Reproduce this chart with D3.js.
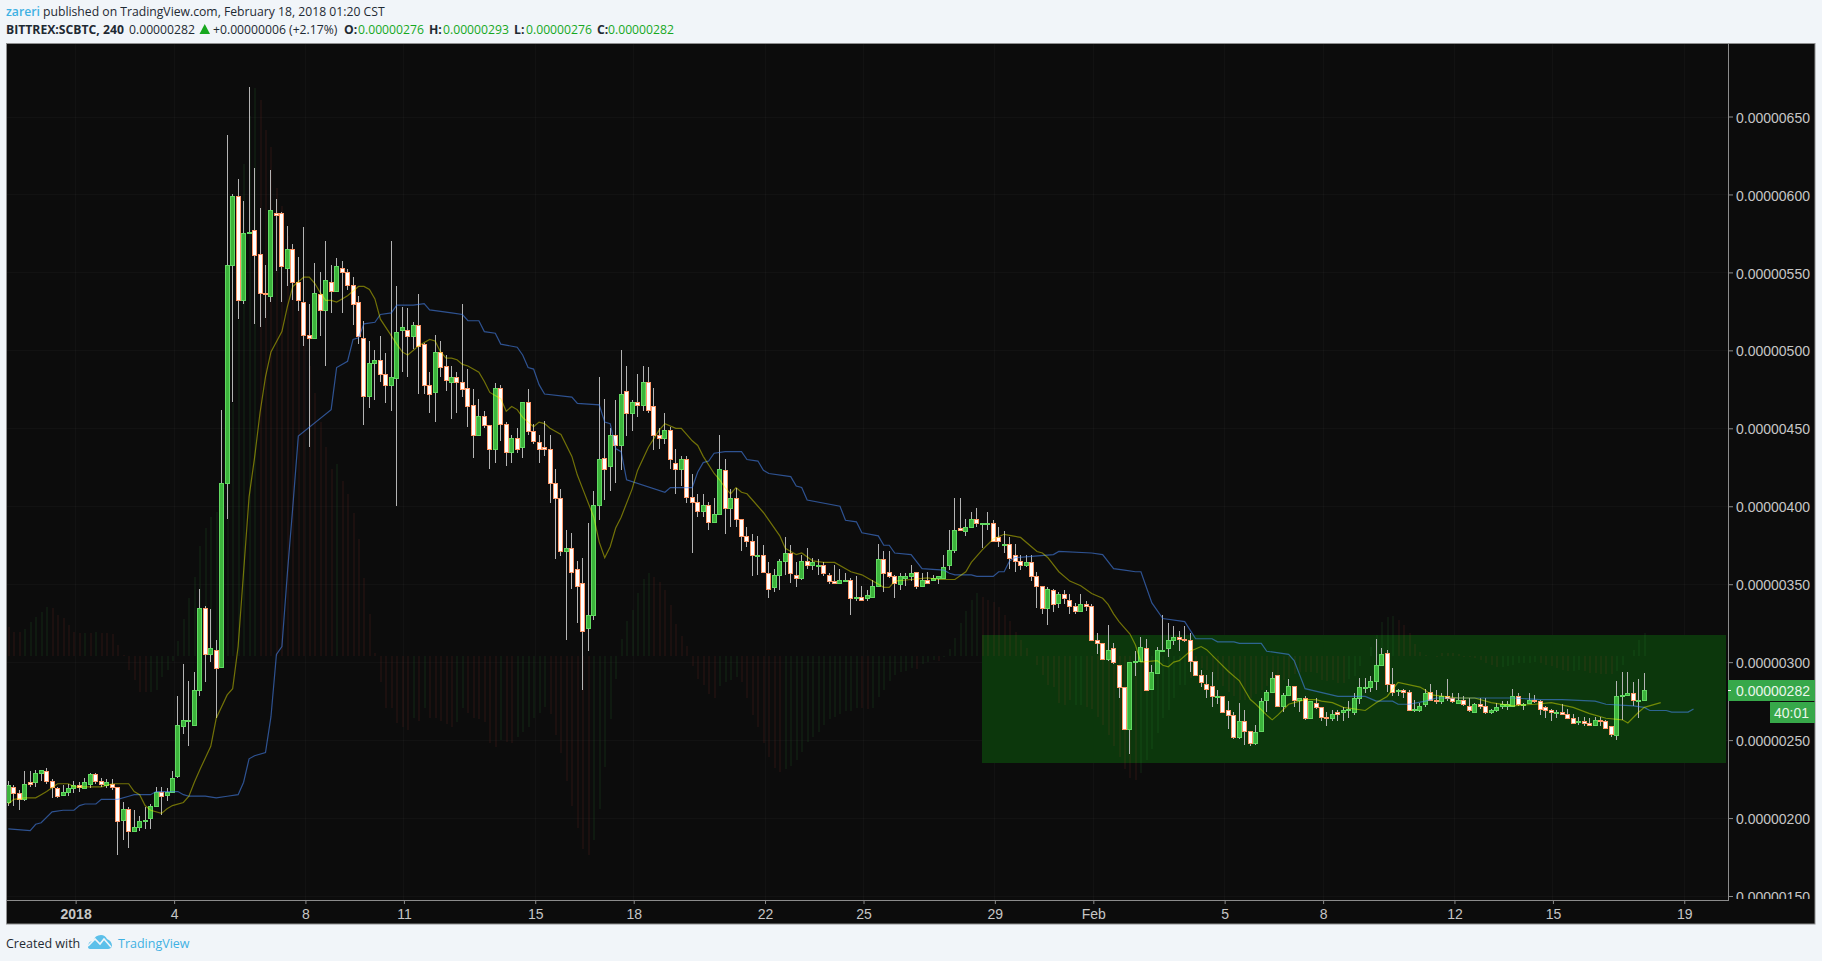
<!DOCTYPE html>
<html>
<head>
<meta charset="utf-8">
<title>BITTREX:SCBTC, 240</title>
<script src="https://cdn.jsdelivr.net/npm/d3@7"></script>
<style>
  html, body { margin: 0; padding: 0; background: #f1f5f9; }
  svg { display: block; }
  .axis text { font-family: "Liberation Sans", Arial, sans-serif; font-size: 14px; fill: #c6c6c6; }
  .axis line { stroke: #8c8c8c; }
  .head { font-family: "Open Sans", "Noto Sans", sans-serif; font-size: 12.2px; fill: #1f2a33; }
</style>
</head>
<body>
<div id="chart"></div>
<script>
// Prices are in satoshi (1e-8 BTC), 4h candles
const opens = [
  210,220,216,212,223,223,229,230,224,219,215,217,219,221,219,222,228,224,221,222,
  220,199,206,192,194,198,200,208,217,215,217,227,259,262,260,282,335,305,308,297,
  415,555,599,532,575,577,562,537,535,588,588,553,565,544,531,510,508,536,526,544,
  538,553,550,542,531,508,471,492,494,485,478,482,513,513,509,516,504,478,473,499,
  490,480,483,480,476,465,446,458,452,437,476,453,435,444,438,467,448,441,438,437,
  415,405,371,373,360,351,322,330,401,431,426,446,439,474,460,467,465,480,464,446,
  444,449,428,424,430,406,403,397,401,390,395,423,399,405,392,381,378,369,369,357,
  348,356,365,370,356,354,365,362,362,362,356,352,351,353,353,341,342,341,342,349,
  366,358,355,350,354,355,358,349,353,353,354,354,362,372,386,384,387,392,389,389,
  389,380,376,376,369,365,362,364,355,349,335,346,338,344,340,336,333,337,336,314,
  312,302,309,298,284,257,300,301,309,283,293,308,309,314,316,315,314,301,292,286,
  285,278,278,269,266,252,262,256,248,256,276,281,292,272,279,285,276,277,264,274,
  271,265,264,268,268,269,268,277,284,284,288,298,306,286,282,282,281,269,269,273,
  281,276,275,278,277,274,276,272,268,273,272,268,269,272,272,272,278,273,274,276,
  275,271,269,268,268,267,264,262,262,261,260,263,262,259,253,278,279,280,276,276
];
const highs = [
  224,221,218,230,230,231,231,232,225,220,221,222,224,223,226,229,229,226,225,225,
  220,210,207,205,201,207,209,220,220,219,230,278,299,288,294,347,336,334,314,462,
  638,600,610,596,669,617,591,555,616,597,589,580,568,560,579,530,556,550,570,555,
  559,557,552,547,535,519,506,500,509,498,570,541,528,527,518,536,505,486,510,506,
  497,490,486,530,488,475,469,461,452,479,478,454,446,450,467,475,453,446,455,446,
  424,411,385,383,365,367,389,410,483,469,450,468,500,490,468,485,490,489,476,450,
  460,451,437,432,432,421,408,408,403,405,446,430,411,412,392,387,382,381,375,364,
  360,366,380,375,364,369,373,367,366,364,357,362,360,357,354,355,349,346,353,376,
  371,371,356,357,357,362,358,357,358,356,355,369,385,405,405,392,396,399,389,396,
  391,387,384,380,376,369,369,369,358,349,348,347,345,346,344,338,344,339,337,319,
  312,324,312,298,284,300,307,316,315,298,310,330,325,323,320,323,319,301,295,292,
  294,282,278,275,268,274,269,256,260,277,282,294,292,280,289,285,277,278,275,277,
  271,268,269,269,271,275,280,290,290,291,315,309,308,296,283,283,282,276,274,283,
  286,282,280,289,280,280,278,277,274,277,277,270,274,275,275,283,280,274,280,279,
  276,272,270,269,273,270,267,265,265,264,265,265,263,259,288,294,294,287,289,293
];
const lows = [
  208,208,205,211,220,220,224,222,213,213,214,214,216,217,219,219,222,220,219,218,
  176,186,181,191,192,193,193,207,202,211,217,226,254,246,259,278,287,300,264,296,
  392,467,520,530,575,517,515,521,531,551,531,541,532,525,503,438,507,509,490,524,
  538,524,539,516,504,452,463,468,480,466,461,400,486,483,501,472,472,460,454,483,
  474,456,460,470,451,431,446,450,424,428,442,426,428,434,431,446,440,428,432,402,
  366,368,314,347,325,282,307,327,391,404,410,415,423,445,448,457,461,460,436,437,
  440,424,408,413,402,370,393,393,385,389,395,382,387,387,371,374,355,356,357,341,
  345,346,356,351,348,353,360,359,356,355,350,351,350,352,330,339,340,339,342,349,
  345,354,341,346,349,352,347,349,350,352,350,354,359,370,384,381,387,387,373,385,
  378,374,370,360,358,359,361,352,335,331,324,332,335,337,331,331,333,333,314,305,
  302,301,299,277,257,241,291,301,282,283,293,307,303,311,307,313,294,291,284,277,
  271,273,268,257,251,251,247,246,247,255,268,281,272,268,279,271,268,263,264,270,
  262,259,262,262,262,264,266,273,280,281,282,298,281,278,278,277,269,268,268,271,
  276,273,273,275,274,273,272,268,268,270,267,267,268,270,269,271,272,269,273,274,
  266,264,262,264,266,264,261,260,259,259,259,259,257,252,250,263,279,272,264,276
];
const closes = [
  221,216,212,222,222,229,231,224,220,214,217,219,221,220,223,228,224,222,223,220,
  198,206,192,194,198,199,208,217,214,217,226,260,263,263,282,335,305,309,296,415,
  555,599,532,575,576,561,537,536,590,587,554,565,544,532,510,508,537,526,545,538,
  554,550,542,530,509,471,492,494,485,478,483,512,515,509,516,503,478,472,499,489,
  481,483,480,475,464,446,458,452,437,476,453,435,444,437,467,448,442,437,437,415,
  405,371,373,358,349,320,330,401,430,424,446,439,472,460,467,465,480,462,446,444,
  449,430,424,430,406,403,397,401,390,395,424,399,405,392,381,378,369,369,358,347,
  356,365,370,357,354,365,362,364,362,357,352,351,353,353,341,342,340,343,349,366,
  357,355,351,355,355,357,349,353,351,354,355,361,372,385,385,387,392,389,389,389,
  378,378,376,367,365,362,364,355,349,335,347,337,344,341,336,333,337,336,314,312,
  302,308,300,284,257,300,301,310,282,294,308,308,314,316,315,314,301,292,287,283,
  278,278,268,266,252,262,256,248,255,275,281,290,272,279,285,276,277,264,275,271,
  265,264,267,267,269,270,277,284,284,288,298,305,286,281,282,281,269,270,272,280,
  276,275,278,277,275,276,273,269,273,272,268,269,271,273,273,278,273,273,276,275,
  270,269,268,268,267,264,261,262,261,260,263,262,258,254,278,279,280,276,276,282
];

// MACD style histogram behind the candles (height above/below its zero line)
const histValues = [
  29,24,24,27,34,39,44,49,48,41,38,31,24,23,23,23,24,23,23,22,
  11,1,-14,-24,-36,-36,-36,-34,-21,-14,-5,15,37,58,79,110,128,139,144,165,
  205,253,336,492,540,568,556,526,509,468,450,420,385,350,320,290,263,234,209,187,
  192,175,162,143,117,78,42,3,-26,-52,-52,-67,-71,-74,-62,-65,-52,-62,-62,-65,
  -68,-71,-66,-52,-57,-62,-63,-66,-87,-91,-84,-86,-87,-81,-76,-71,-62,-57,-51,-58,
  -79,-97,-125,-150,-172,-193,-199,-184,-153,-111,-63,-23,17,35,46,63,77,83,79,74,
  66,51,32,20,10,-10,-23,-29,-38,-42,-30,-26,-24,-21,-26,-42,-59,-71,-87,-101,
  -112,-116,-113,-110,-104,-96,-86,-81,-76,-69,-63,-61,-58,-55,-55,-52,-52,-53,-52,-41,
  -34,-25,-19,-16,-15,-12,-13,-8,-6,-4,-5,-1,7,18,33,45,56,63,59,56,
  54,49,41,35,24,16,8,0,-9,-19,-29,-31,-47,-49,-44,-49,-49,-51,-53,-61,
  -69,-79,-90,-101,-113,-122,-124,-117,-104,-93,-77,-62,-54,-42,-29,-29,-22,-17,-12,-14,
  -18,-24,-30,-36,-40,-44,-44,-42,-38,-34,-30,-28,-26,-24,-22,-18,-16,-16,-16,-17,
  -24,-25,-24,-27,-27,-23,-20,-10,0,9,21,34,39,40,36,31,23,12,4,1,
  0,-1,3,3,3,2,-1,-1,-2,-4,-7,-9,-11,-11,-10,-9,-7,-7,-7,-6,
  -7,-9,-10,-12,-14,-15,-15,-14,-15,-17,-17,-18,-18,-18,-15,-9,0,6,16,23
];
// the bars of that histogram that are green, the others are red
const histGreen = [
  3,4,5,6,7,14,16,26,27,28,29,30,31,32,33,34,35,36,37,38,39,40,41,42,43,44,45,60,74,76,82,83,
  90,93,94,95,96,97,98,107,108,109,110,111,112,113,114,115,116,117,130,131,132,133,
  142,143,144,145,146,147,148,149,150,151,152,153,154,155,158,159,160,161,162,163,164,165,
  167,168,169,171,172,173,174,175,176,177,195,196,207,208,209,210,211,212,213,214,215,
  245,246,247,249,250,251,252,253,273,274,275,276,277,278,279,286,287,294,295,297,298,299
];

// Olive and blue moving lines: bar index + value at each corner
const yellowBars = [
  0,1,3,5,6,7,9,11,12,17,19,22,23,24,25,26,28,29,30,32,33,34,35,37,38,40,41,42,43,44,45,46,47,48,
  50,51,52,53,54,55,56,57,58,59,60,61,62,64,65,66,67,68,71,72,73,75,77,78,79,80,81,82,83,84,86,87,88,
  90,91,92,93,94,96,97,98,99,101,103,104,105,107,108,109,110,111,112,114,115,117,119,120,122,123,125,126,127,129,
  130,131,132,133,134,135,136,138,141,142,143,144,145,147,149,151,154,156,158,160,161,162,165,168,170,173,175,176,178,
  180,182,185,188,189,190,192,194,196,198,200,201,202,203,204,205,206,207,210,211,212,213,214,216,218,219,221,223,225,226,227,228,
  230,231,232,234,236,237,239,240,242,244,248,250,252,254,258,259,260,265,268,271,275,279,282,286,289,292,295,296,298,299,302
];
const yellowVals = [
  209,212,213,213,215,217,222,222,220,220,222,222,217,215,208,205,203,206,208,210,214,223,231,246,264,279,283,310,358,406,431,460,483,499,
  512,528,541,544,547,547,543,537,532,532,531,533,535,541,541,539,533,520,504,499,497,503,507,506,499,495,495,494,491,490,486,480,473,
  469,461,464,462,457,451,454,453,450,446,432,420,411,393,377,367,374,386,393,411,423,438,449,453,450,450,442,439,432,421,
  417,412,408,412,409,408,404,396,381,373,371,369,370,365,364,364,358,356,352,348,348,352,353,354,353,353,358,364,372,
  379,382,380,371,370,367,358,352,349,344,341,337,331,326,322,318,311,300,301,298,297,300,301,307,310,308,301,294,288,282,276,273,
  266,263,266,273,275,276,276,275,274,271,269,274,278,287,284,282,279,277,277,274,272,273,274,271,267,264,263,261,268,271,274
];
const blueBars = [
  0,4,5,6,8,10,12,13,14,16,17,18,20,22,23,26,27,31,32,33,36,38,40,42,43,44,45,47,48,49,50,51,52,53,59,60,62,63,64,65,67,68,70,71,72,74,76,77,79,81,
  83,84,86,87,89,90,93,94,95,96,97,98,103,104,108,109,110,111,112,113,120,121,125,126,127,128,129,131,134,135,137,138,139,143,144,145,146,152,153,155,156,159,
  160,161,162,165,167,171,172,173,176,177,180,181,182,183,184,191,192,198,200,202,204,206,207,209,211,215,217,220,221,224,225,229,230,234,235,237,
  243,248,250,253,254,256,259,261,265,275,280,284,290,292,297,299,300,303,304,307,308
];
const blueVals = [
  193,192,196,197,204,205,205,208,209,209,212,212,212,214,215,215,217,217,215,214,214,213,214,215,223,238,240,242,265,305,310,357,400,445,462,489,493,507,508,517,518,523,524,529,529,529,530,526,525,524,
  523,519,519,512,511,504,502,497,489,488,478,472,470,466,465,454,453,437,435,417,409,412,412,422,428,429,434,435,435,430,429,423,421,419,413,412,404,400,391,390,383,381,
  375,375,370,369,360,359,357,356,356,355,355,358,358,365,367,369,371,370,369,360,359,358,358,338,328,326,315,315,313,313,312,312,307,305,301,283,
  278,278,275,275,273,273,275,277,277,277,276,276,275,273,272,271,269,269,268,268,270
];

// Time axis: days after Jan 1 and their labels
const tickDays = [0,3,7,10,14,17,21,24,28,31,35,38,42,45,49];
const tickLabels = ["2018","4","8","11","15","18","22","25","29","Feb","5","8","12","15","19"];
const priceTicks = [150,200,250,300,350,400,450,500,550,600,650];

// Green box drawn on the chart
const boxPrices = [235, 317.5];
const boxBars = [178, 314];

const lastPrice = 282;
const countdown = "40:01";

// Layout
const W = 1822, H = 961;
const pane = { left: 7, top: 44, right: 1728, bottom: 900 };
const frameRight = 1815, frameBottom = 924;

const svg = d3.select("#chart").append("svg")
  .attr("width", W)
  .attr("height", H);

const x = d3.scaleLinear().domain([0, 299]).range([8.33, 1644.3]);
const y = d3.scaleLinear().domain([150, 650]).range([896, 116.5]);
const yHist = d3.scaleLinear().domain([-600, 600]).range([1256, 56]);
const px = d => Math.floor(x(d));
const fmtPrice = d => "0." + String(d).padStart(8, "0");

// Frame
svg.append("rect")
  .attr("x", 6.5).attr("y", 43.5)
  .attr("width", frameRight - 6.5).attr("height", frameBottom - 43.5)
  .attr("fill", "#0c0c0c")
  .attr("stroke", "#8f9091");

const defs = svg.append("defs");
defs.append("clipPath").attr("id", "paneClip").append("rect")
  .attr("x", pane.left).attr("y", pane.top)
  .attr("width", pane.right - pane.left).attr("height", pane.bottom - pane.top);
defs.append("clipPath").attr("id", "priceClip").append("rect")
  .attr("x", pane.right - 1).attr("y", pane.top)
  .attr("width", frameRight - pane.right + 1).attr("height", pane.bottom - pane.top - 1);

const g = svg.append("g").attr("clip-path", "url(#paneClip)");

// Grid
const tickBars = tickDays.map(d => 12.3 + d * 6);
g.append("g").selectAll("line").data(priceTicks).enter().append("line")
  .attr("x1", pane.left).attr("x2", pane.right)
  .attr("y1", d => Math.round(y(d)) + 0.5).attr("y2", d => Math.round(y(d)) + 0.5)
  .attr("stroke", "rgba(255,255,255,0.027)");
g.append("g").selectAll("line").data(tickBars).enter().append("line")
  .attr("y1", pane.top).attr("y2", pane.bottom)
  .attr("x1", d => Math.floor(x(d)) + 0.5).attr("x2", d => Math.floor(x(d)) + 0.5)
  .attr("stroke", "rgba(255,255,255,0.027)");

// Green box
g.append("rect")
  .attr("x", Math.round(x(boxBars[0])))
  .attr("y", Math.round(y(boxPrices[1])))
  .attr("width", Math.round(x(boxBars[1])) - Math.round(x(boxBars[0])))
  .attr("height", Math.round(y(boxPrices[0])) - Math.round(y(boxPrices[1])))
  .attr("fill", "#0c370c");

// Histogram
const greenSet = new Set(histGreen);
g.append("g").selectAll("rect").data(histValues).enter().append("rect")
  .attr("x", (d, i) => px(i))
  .attr("width", 2)
  .attr("y", d => Math.min(yHist(d), yHist(0)))
  .attr("height", d => Math.abs(yHist(d) - yHist(0)))
  .attr("fill", (d, i) => greenSet.has(i) ? "rgba(60,200,70,0.075)" : "rgba(235,70,50,0.07)");

// Candles
const bars = opens.map((o, i) => ({ i, o, h: highs[i], l: lows[i], c: closes[i] }));
const up = d => d.c >= d.o;

g.append("g").selectAll("rect").data(bars).enter().append("rect")
  .attr("x", d => px(d.i))
  .attr("width", 1)
  .attr("y", d => Math.round(y(d.h)))
  .attr("height", d => Math.max(1, Math.round(y(d.l)) - Math.round(y(d.h))))
  .attr("fill", "#b4b4b4");

g.append("g").selectAll("rect").data(bars).enter().append("rect")
  .attr("x", d => px(d.i) - 1.5)
  .attr("width", 4)
  .attr("y", d => Math.round(y(Math.max(d.o, d.c))) + 0.5)
  .attr("height", d => Math.max(1, Math.round(y(Math.min(d.o, d.c))) - Math.round(y(Math.max(d.o, d.c)))))
  .attr("fill", d => up(d) ? "#3cb43c" : "#ffffff")
  .attr("stroke", d => up(d) ? "#62d962" : "#ff9a6a")
  .attr("stroke-width", 1)
  .attr("shape-rendering", "crispEdges");

// Moving lines
const line = d3.line().x(d => x(d[0])).y(d => y(d[1]));
g.append("path")
  .datum(blueBars.map((b, i) => [b, blueVals[i]]))
  .attr("d", line)
  .attr("fill", "none")
  .attr("stroke", "rgba(75,140,255,0.55)")
  .attr("stroke-width", 1.2);
g.append("path")
  .datum(yellowBars.map((b, i) => [b, yellowVals[i]]))
  .attr("d", line)
  .attr("fill", "none")
  .attr("stroke", "rgba(255,255,0,0.42)")
  .attr("stroke-width", 1.2);

// Price scale
svg.append("line")
  .attr("x1", pane.right + 0.5).attr("x2", pane.right + 0.5)
  .attr("y1", pane.top).attr("y2", pane.bottom + 0.5)
  .attr("stroke", "#8c8c8c");

svg.append("g")
  .attr("class", "axis")
  .attr("clip-path", "url(#priceClip)")
  .append("g")
  .attr("transform", `translate(${pane.right},0)`)
  .call(d3.axisRight(y).tickValues(priceTicks).tickFormat(fmtPrice).tickSize(5).tickPadding(3))
  .call(a => a.select(".domain").remove())
  .call(a => a.selectAll("text").attr("dy", "0.4em"));

// Time scale
svg.append("line")
  .attr("x1", pane.left).attr("x2", pane.right + 1)
  .attr("y1", pane.bottom + 0.5).attr("y2", pane.bottom + 0.5)
  .attr("stroke", "#8c8c8c");

svg.append("g")
  .attr("class", "axis")
  .attr("transform", `translate(0,${pane.bottom})`)
  .call(d3.axisBottom(x).tickValues(tickBars).tickFormat((d, i) => tickLabels[i]).tickSize(4).tickPadding(5))
  .call(a => a.select(".domain").remove())
  .call(a => a.selectAll(".tick").filter((d, i) => tickLabels[i] === "2018").select("text").style("font-weight", "700"));

// Last price and countdown labels
svg.append("rect")
  .attr("x", pane.right).attr("y", Math.round(y(lastPrice)) - 10)
  .attr("width", frameRight - pane.right).attr("height", 21)
  .attr("fill", "#37a84a");
svg.append("rect")
  .attr("x", pane.right).attr("y", Math.round(y(lastPrice)))
  .attr("width", 3).attr("height", 1)
  .attr("fill", "#ffffff");
svg.append("text")
  .attr("x", pane.right + 8).attr("y", y(lastPrice) + 6)
  .style("font-family", '"Liberation Sans", Arial, sans-serif')
  .style("font-size", "14px")
  .style("fill", "#eaf6ea")
  .text(fmtPrice(lastPrice));
svg.append("rect")
  .attr("x", 1770).attr("y", Math.round(y(lastPrice)) + 12)
  .attr("width", frameRight - 1770).attr("height", 21)
  .attr("fill", "#37a84a");
svg.append("text")
  .attr("x", 1774).attr("y", y(lastPrice) + 28)
  .style("font-family", '"Liberation Sans", Arial, sans-serif')
  .style("font-size", "14px")
  .style("fill", "#eaf6ea")
  .text(countdown);

// Header
const green = "#17a81f";
const t1 = svg.append("text").attr("class", "head").attr("x", 6).attr("y", 16);
t1.append("tspan").style("fill", "#3fb1e3").style("font-weight", "600").text("zareri");
t1.append("tspan").text(" published on TradingView.com, February 18, 2018 01:20 CST");

function headText(xp, str, bold, color) {
  svg.append("text").attr("class", "head")
    .attr("x", xp).attr("y", 34)
    .style("font-weight", bold ? "700" : "400")
    .style("fill", color || "#1f2a33")
    .text(str);
}
headText(6, "BITTREX:SCBTC, 240", true);
headText(129, fmtPrice(lastPrice));
svg.append("path").attr("d", "M199.5 34 L210 34 L204.75 24 Z").attr("fill", green);
headText(213, "+0.00000006 (+2.17%)");
headText(344, "O:", true);
headText(358, fmtPrice(opens[299]), false, green);
headText(429, "H:", true);
headText(443, fmtPrice(highs[299]), false, green);
headText(514, "L:", true);
headText(526, fmtPrice(lows[299]), false, green);
headText(597, "C:", true);
headText(608, fmtPrice(closes[299]), false, green);

// Footer
svg.append("text").attr("class", "head").attr("x", 6).attr("y", 948)
  .style("font-size", "12.5px").text("Created with");
svg.append("path")
  .attr("d", "M88 947 Q88 941 93 941 Q95 935 101 935 Q105 935 107 939 Q112 941 112 946 Q111 949 108 949 L91 949 Q88 949 88 947 Z")
  .attr("fill", "#5cc0ea");
svg.append("path")
  .attr("d", "M88 946 L95 939 L100 944 L104 939 L111 947")
  .attr("fill", "none").attr("stroke", "#f1f5f9").attr("stroke-width", 1.6);
svg.append("text").attr("class", "head").attr("x", 118).attr("y", 948)
  .style("font-size", "12.5px").style("fill", "#3fb1e3").text("TradingView");
</script>
</body>
</html>
